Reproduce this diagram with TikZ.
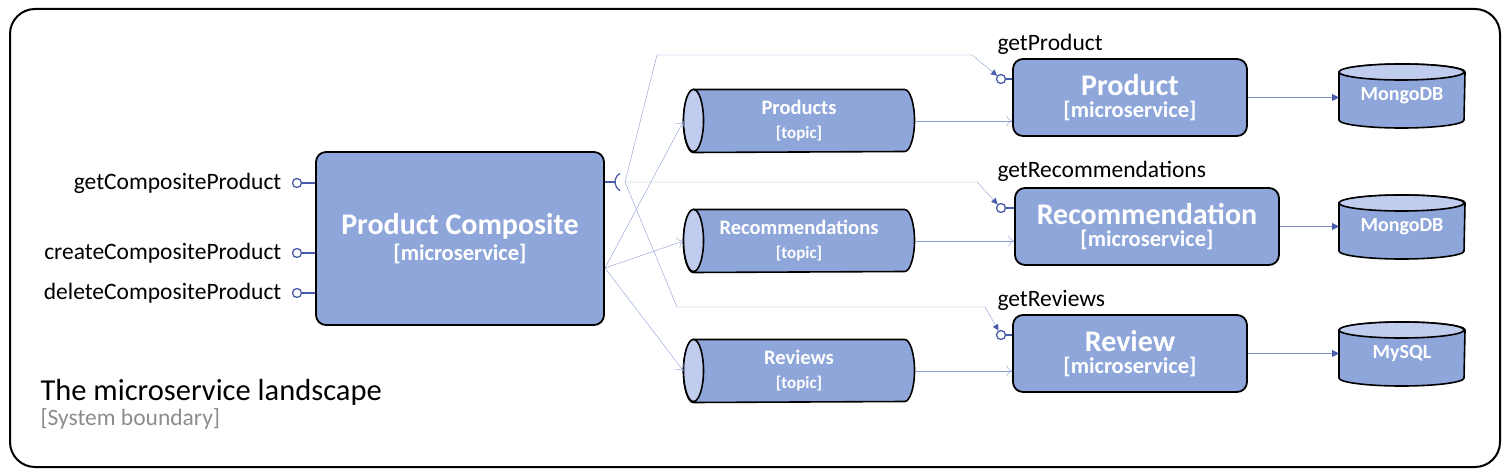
\documentclass[tikz,border=0pt]{standalone}
\usepackage{fontspec}
\setmainfont{Carlito}
\usetikzlibrary{arrows.meta}

\definecolor{svc}{RGB}{143,166,218}
\definecolor{svclight}{RGB}{192,205,238}
\definecolor{wire}{RGB}{138,158,214}
\definecolor{api}{RGB}{72,92,168}

\pgfdeclarelayer{back}
\pgfsetlayers{back,main}

% cilindro horizontal (topic) y vertical (base de datos)
\newcommand{\tube}[1]{%
  \path[draw=black, line width=1.6pt, fill=svc]
    ([xshift=10pt]#1.north west) -- ([xshift=-10pt]#1.north east)
    arc[start angle=90, end angle=-90, x radius=10pt, y radius=31pt]
    -- ([xshift=10pt]#1.south west)
    arc[start angle=270, end angle=90, x radius=10pt, y radius=31pt] -- cycle;
  \path[draw=black, line width=1.6pt, fill=svclight]
    ([xshift=10pt]#1.north west)
    arc[start angle=90, end angle=450, x radius=10pt, y radius=31pt];}
\newcommand{\drum}[1]{%
  \path[draw=black, line width=1.6pt, fill=svc]
    ([yshift=-8pt]#1.north west) -- ([yshift=8pt]#1.south west)
    arc[start angle=180, end angle=360, x radius=62.5pt, y radius=8pt]
    -- ([yshift=-8pt]#1.north east)
    arc[start angle=0, end angle=180, x radius=62.5pt, y radius=8pt] -- cycle;
  \path[draw=black, line width=1.6pt, fill=svclight]
    ([yshift=-8pt]#1.north west)
    arc[start angle=180, end angle=540, x radius=62.5pt, y radius=8pt];}

\begin{document}
\begin{tikzpicture}[x=1pt, y=-1pt, line width=1pt,
  box/.style={draw=black, line width=1.8pt, fill=svc, rounded corners=10pt,
    text=white, align=center, inner sep=0pt},
  topic/.style={minimum width=230pt, minimum height=62pt, text=white,
    align=center, inner sep=0pt, font=\bfseries\fontsize{20.5}{24}\selectfont},
  db/.style={minimum width=125pt, minimum height=63pt, text=white,
    inner sep=0pt, font=\bfseries\fontsize{20}{24}\selectfont},
  lolli/.style={circle, draw=api, fill=white, line width=1.3pt,
    minimum size=9pt, inner sep=0pt},
  apilabel/.style={font=\fontsize{23.5}{28}\selectfont, inner sep=0pt},
  flow/.style={draw=wire, -{To[length=6pt, width=11pt]}},
  call/.style={draw=wire, -{Triangle[length=6pt, width=6pt, color=api]}},
  store/.style={draw=api!70, -{Triangle[length=7pt, width=7pt, color=api]}}]
  \useasboundingbox (0,0) rectangle (1510,476);
  % borde del sistema
  \draw[line width=2pt, rounded corners=25pt] (10,9) rectangle (1500,467);
  \node[anchor=base west, font=\fontsize{30.5}{36}\selectfont, inner sep=0pt]
    (title) at (40,400) {The microservice landscape};
  \node[anchor=base west, font=\fontsize{23.5}{28}\selectfont, text=black!45,
    inner sep=0pt] (sub) at (40,425) {[System boundary]};

  % servicio compuesto
  \node[box, minimum width=288pt, minimum height=173pt] (comp) at (460,238.5)
    {{\bfseries\fontsize{30}{33}\selectfont Product Composite}\\[4pt]
     {\bfseries\fontsize{22.5}{27}\selectfont [microservice]}};
  \node[lolli] (getcp) at (297,183) {};
  \node[lolli] (createcp) at (297,253) {};
  \node[lolli] (deletecp) at (297,293) {};
  \foreach \n/\t in {getcp/getCompositeProduct, createcp/createCompositeProduct,
                     deletecp/deleteCompositeProduct} {
    \draw[api, line width=1.3pt] (\n) -- (\n -| comp.west);
    \node[apilabel, anchor=east, xshift=-10pt] at (\n.west) {\t};
  }

  % topics
  \node[topic] (products) at (799,121) {Products\\{\fontsize{17}{20}\selectfont [topic]}};
  \node[topic] (recs) at (799,241) {Recommendations\\{\fontsize{17}{20}\selectfont [topic]}};
  \node[topic] (reviews) at (799,371) {Reviews\\{\fontsize{17}{20}\selectfont [topic]}};

  % servicios básicos
  \foreach \n/\t/\x/\y/\w in {product/Product/1130/97.5/234,
      recommendation/Recommendation/1147/226.5/264, review/Review/1130/353.5/234} {
    \node[box, minimum width=\w pt, minimum height=77pt] (\n) at (\x,\y)
      {{\bfseries\fontsize{30}{30}\selectfont \t}\\[5pt]
       {\bfseries\fontsize{22.5}{27}\selectfont [microservice]}};
  }
  \node[lolli] (pget) at (1001,79) {};
  \node[lolli] (rget) at (1001,208) {};
  \node[lolli] (vget) at (1001,335) {};
  \draw[api, line width=1.3pt] (pget) -- (pget -| product.west);
  \draw[api, line width=1.3pt] (rget) -- (rget -| recommendation.west);
  \draw[api, line width=1.3pt] (vget) -- (vget -| review.west);
  \node[apilabel, anchor=base west] at (997,51) {getProduct};
  \node[apilabel, anchor=base west] at (997,178) {getRecommendations};
  \node[apilabel, anchor=base west] at (997,306) {getReviews};

  % bases de datos
  \node[db] (mongoa) at (1402,96) {\raisebox{-5pt}{MongoDB}};
  \node[db] (mongob) at (1402,227) {\raisebox{-5pt}{MongoDB}};
  \node[db] (mysql) at (1402,354) {\raisebox{-5pt}{MySQL}};
  \draw[store] (product.east) -- (product.east -| mongoa.west);
  \draw[store] (recommendation.east) -- (recommendation.east -| mongob.west);
  \draw[store] (review.east) -- (review.east -| mysql.west);

  \begin{pgfonlayer}{back}
    \foreach \n in {products, recs, reviews} {\tube{\n}}
    \foreach \n in {mongoa, mongob, mysql} {\drum{\n}}
  \end{pgfonlayer}

  % eventos
  \coordinate (fan) at (605,268);
  \draw[flow] (fan) -- (products.west);
  \draw[flow] (fan) -- (recs.west);
  \draw[flow] (fan) -- (reviews.west);
  \draw[flow] (products.east) -- (products.east -| product.west);
  \draw[flow] (recs.east) -- (recs.east -| recommendation.west);
  \draw[flow] (reviews.east) -- (reviews.east -| review.west);

  % llamadas síncronas
  \coordinate (sock) at (625,182);
  \draw[api, line width=1.3pt] (sock -| comp.east) -- (615,182);
  \draw[api, line width=1.3pt] (620,173.3) arc[start angle=120, end angle=240, radius=10pt];
  \draw[call] (sock) -- (657,55) -- (972,55) -- (pget);
  \draw[call] (sock) -- (977,182) -- (rget);
  \draw[call] (sock) -- (677,307) -- (985,307) -- (vget);
\end{tikzpicture}
\end{document}
